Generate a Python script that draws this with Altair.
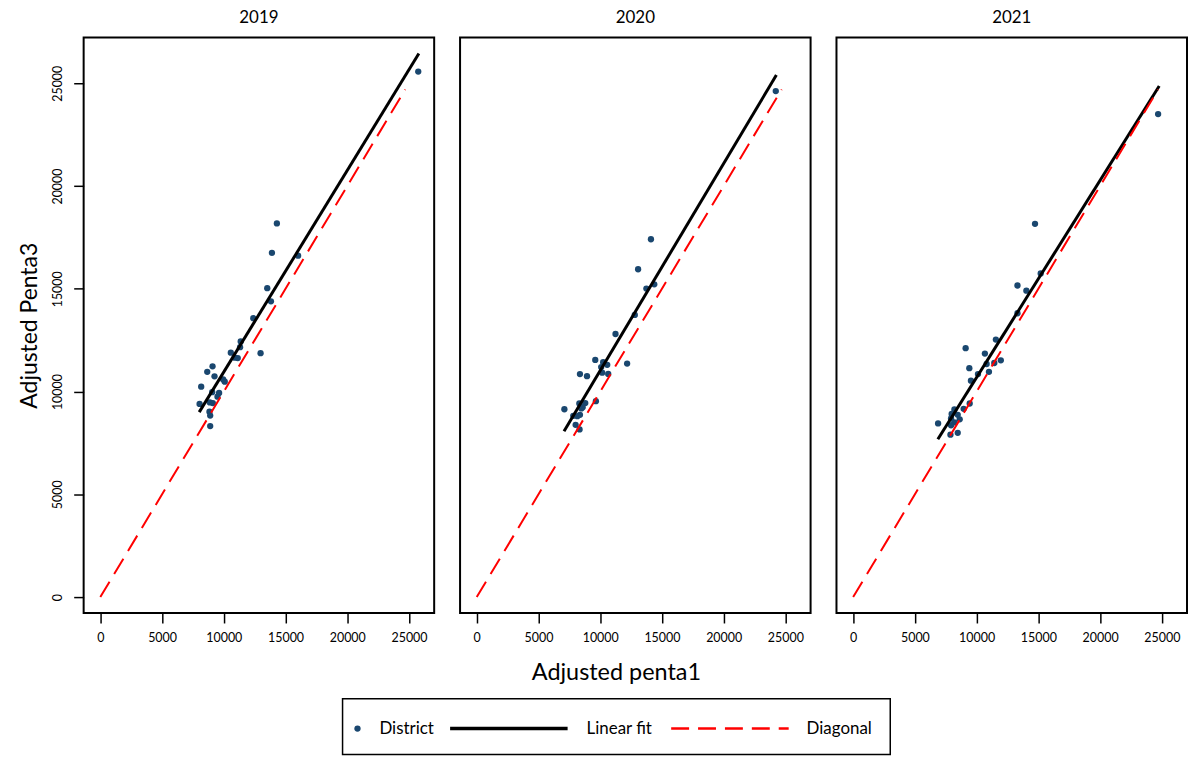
import altair as alt
import pandas as pd

# Adjusted penta1 (x) and adjusted Penta3 (y) by district and year
years = ["2019", "2020", "2021"]

penta1_2019 = [25750, 14300, 13900, 16020, 13520, 13820, 12390, 11370, 11320, 10570,
               10890, 11130, 12980, 9090, 8660, 9250, 9950, 10080, 8170, 9060,
               9620, 9490, 8040, 8870, 9110, 8840, 8900, 8900]
penta3_2019 = [25570, 18180, 16750, 16610, 15030, 14390, 13570, 12440, 12160, 11890,
               11650, 11630, 11870, 11230, 10960, 10740, 10590, 10480, 10240, 9970,
               9930, 9750, 9400, 9470, 9440, 9020, 8830, 8320]

penta1_2020 = [24220, 14110, 13070, 13740, 14380, 12800, 11240, 9600, 12180, 10240,
               10570, 10080, 10160, 10650, 8360, 8930, 9650, 8310, 8790, 7100,
               8470, 7820, 8360, 8580, 8010, 8330, 8150]
penta3_2020 = [24620, 17410, 15950, 15010, 15220, 13730, 12800, 11540, 11360, 11430,
               11300, 11190, 10920, 10860, 10850, 10750, 9530, 9420, 9440, 9140,
               9180, 8820, 8870, 9240, 8380, 8160, 8800]

penta1_2021 = [24700, 14730, 15190, 13310, 14030, 13310, 11560, 9110, 10670, 10810,
               11430, 11960, 9410, 11000, 10110, 9540, 9440, 8950, 8200, 7980,
               8470, 8630, 7930, 8200, 6880, 7930, 7880, 8470]
penta3_2021 = [23500, 18160, 15750, 15160, 14910, 13810, 12530, 12110, 11850, 11340,
               11390, 11520, 11140, 10960, 10850, 10530, 9420, 9160, 9130, 8910,
               8870, 8650, 8690, 8500, 8450, 8360, 7900, 7990]

# Linear fit end points (start, end) per year
fit_penta1 = {"2019": [8010, 25800], "2020": [7070, 24270], "2021": [6860, 24790]}
fit_penta3 = {"2019": [9000, 26450], "2020": [8070, 25400], "2021": [7680, 24870]}

# 45-degree reference line
diag_range = [0, 24700]

tick_values = [0, 5000, 10000, 15000, 20000, 25000]

points = pd.concat([
    pd.DataFrame({"year": y, "penta1": px, "penta3": py})
    for y, px, py in [("2019", penta1_2019, penta3_2019),
                      ("2020", penta1_2020, penta3_2020),
                      ("2021", penta1_2021, penta3_2021)]
])
fits = pd.concat([
    pd.DataFrame({"year": y, "penta1": fit_penta1[y], "penta3": fit_penta3[y]})
    for y in years
])
diag = pd.DataFrame({"penta1": diag_range, "penta3": diag_range})

FONT = "Lato"
NAVY = "#1a476f"
PANEL_W, PANEL_H = 352, 578
LEFT = 17                 # chart padding on the left
TOP = 7                   # chart padding on the top
PLOT_LEFT = LEFT + 65     # page x where the first panel's plot area starts
LEG_TOP = 651             # page y where the lower block (axis title + legend) starts

x_scale = alt.Scale(domain=[-1350, 27040], nice=False, zero=False)
y_scale = alt.Scale(domain=[-775, 27230], nice=False, zero=False)

x_axis = alt.Axis(values=tick_values, format="d", title=None, grid=False,
                  domain=False, tickSize=10, labelPadding=9, labelFontSize=12.5)


def panel(year, first):
    if first:
        y_axis = alt.Axis(values=tick_values, format="d", title="Adjusted Penta3",
                          grid=False, domain=False, tickSize=10, labelPadding=9,
                          labelAngle=-90, labelAlign="center", labelBaseline="bottom",
                          labelFontSize=12.5, titleFontSize=23, titlePadding=10)
    x = alt.X("penta1:Q", scale=x_scale, axis=x_axis)
    y = alt.Y("penta3:Q", scale=y_scale, axis=y_axis if first else None)

    dots = alt.Chart(points[points.year == year]).mark_circle(
        size=40, color=NAVY, opacity=1).encode(x=x, y=y)
    fit = alt.Chart(fits[fits.year == year]).mark_line(
        color="black", strokeWidth=3).encode(x=x, y=y)
    dline = alt.Chart(diag).mark_line(
        color="red", strokeWidth=2, strokeDash=[18, 9]).encode(x=x, y=y)
    return alt.layer(dots, fit, dline).properties(
        width=PANEL_W, height=PANEL_H,
        title=alt.TitleParams(year, frame="group", anchor="middle", fontSize=17,
                              font=FONT, fontWeight="normal", offset=10),
    )


panels = alt.hconcat(*[panel(y, i == 0) for i, y in enumerate(years)], spacing=24)

# Lower block: x-axis title and the boxed legend
one = alt.InlineData(values=[{}])


def rx(px):
    return px - PLOT_LEFT


def ry(py):
    return py - LEG_TOP


x_title = alt.Chart(one).mark_text(
    font=FONT, fontSize=23.5, align="center", baseline="middle", color="black"
).encode(x=alt.value(rx(617)), y=alt.value(ry(673)), text=alt.value("Adjusted penta1"))

box = alt.Chart(one).mark_rect(fill="white", stroke="black", strokeWidth=1.5).encode(
    x=alt.value(rx(342)), x2=alt.value(rx(892)), y=alt.value(ry(699)), y2=alt.value(ry(755)))

leg_dot = alt.Chart(one).mark_circle(size=40, color=NAVY, opacity=1).encode(
    x=alt.value(rx(357)), y=alt.value(ry(729)))
leg_fit = alt.Chart(one).mark_rule(color="black", strokeWidth=3.5).encode(
    x=alt.value(rx(450)), x2=alt.value(rx(568)), y=alt.value(ry(729)))
leg_diag = alt.Chart(one).mark_rule(color="red", strokeWidth=2.5, strokeDash=[18, 9]).encode(
    x=alt.value(rx(672)), x2=alt.value(rx(790)), y=alt.value(ry(729)))


def leg_text(label, px):
    return alt.Chart(one).mark_text(
        font=FONT, fontSize=17, align="left", baseline="middle", color="black"
    ).encode(x=alt.value(rx(px)), y=alt.value(ry(729)), text=alt.value(label))


legend = alt.layer(
    x_title, box, leg_dot, leg_fit, leg_diag,
    leg_text("District", 379), leg_text("Linear fit", 587), leg_text("Diagonal", 808),
).properties(width=1000, height=104,
             view=alt.ViewBackground(stroke="transparent"))

chart = alt.vconcat(panels, legend, spacing=4).properties(
    padding={"left": LEFT, "top": TOP, "right": 0, "bottom": 0},
    background="white",
).configure_view(
    stroke="black", strokeWidth=2
).configure_axis(
    labelFont=FONT, titleFont=FONT, labelColor="black", titleColor="black",
    tickColor="black", tickWidth=1.5, titleFontWeight="normal"
)

chart.save("out.html", embed_options={"renderer": "svg", "actions": False})
